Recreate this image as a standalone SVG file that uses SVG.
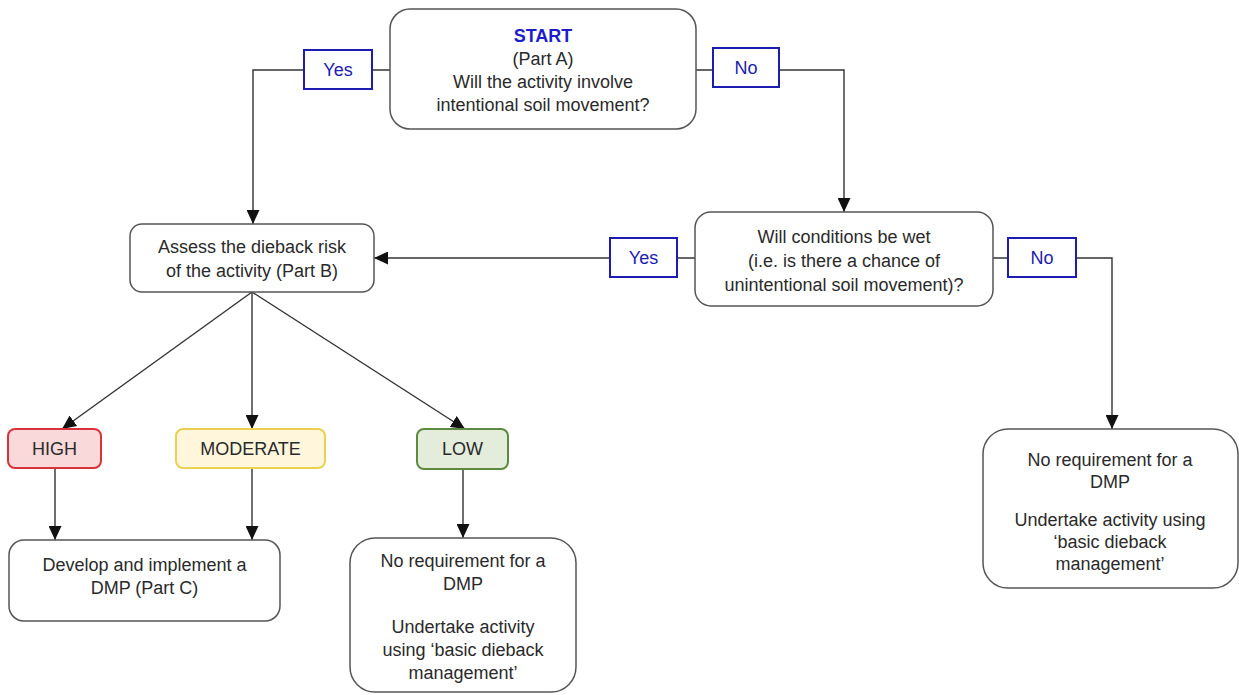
<svg xmlns="http://www.w3.org/2000/svg" width="1239" height="695" viewBox="0 0 1239 695">
<defs>
<marker id="arr" markerWidth="14" markerHeight="13" viewBox="0 0 14 13" refX="14" refY="6.5" orient="auto" markerUnits="userSpaceOnUse">
<path d="M0,0 L14,6.5 L0,13 Z" fill="#111"/>
</marker>
<style>
.box{fill:#fff;stroke:#555;stroke-width:1.5}
.lbl{fill:#fff;stroke:#1c1cb0;stroke-width:2}
.t{font-family:"Liberation Sans",Arial,sans-serif;font-size:18px;fill:#2a2a2a;text-anchor:middle}
.lt{font-family:"Liberation Sans",Arial,sans-serif;font-size:18px;fill:#1c1cb0;text-anchor:middle}
.c{fill:none;stroke:#333;stroke-width:1.4}
</style>
</defs>
<rect width="1239" height="695" fill="#fff"/>
<g id="connectors">
<path class="c" d="M390,70 H253 V224" marker-end="url(#arr)"/>
<path class="c" d="M696,70 H844 V212" marker-end="url(#arr)"/>
<path class="c" d="M695,258 H374" marker-end="url(#arr)"/>
<path class="c" d="M993,258 H1112 V429" marker-end="url(#arr)"/>
<path class="c" d="M252,292 L62,429" marker-end="url(#arr)"/>
<path class="c" d="M252,292 V429" marker-end="url(#arr)"/>
<path class="c" d="M252,292 L465,429" marker-end="url(#arr)"/>
<path class="c" d="M55,468 V540" marker-end="url(#arr)"/>
<path class="c" d="M252,468 V540" marker-end="url(#arr)"/>
<path class="c" d="M463,469 V538" marker-end="url(#arr)"/>
</g>
<g id="label-yes-1"><rect class="lbl" x="304" y="50" width="68" height="39"/><text class="lt" x="338" y="76">Yes</text></g>
<g id="label-no-1"><rect class="lbl" x="713" y="48" width="66" height="39"/><text class="lt" x="746" y="74">No</text></g>
<g id="label-yes-2"><rect class="lbl" x="610" y="238" width="67" height="39"/><text class="lt" x="643.5" y="264">Yes</text></g>
<g id="label-no-2"><rect class="lbl" x="1008" y="238" width="68" height="39"/><text class="lt" x="1042" y="264">No</text></g>
<g id="start">
<rect class="box" x="390" y="9" width="306" height="120" rx="20"/>
<text class="t" x="543" y="42" style="font-weight:bold;fill:#1c1cc8">START</text>
<text class="t" x="543" y="65">(Part A)</text>
<text class="t" x="543" y="88">Will the activity involve</text>
<text class="t" x="543" y="111">intentional soil movement?</text>
</g>
<g id="wet">
<rect class="box" x="695" y="212" width="298" height="94" rx="16"/>
<text class="t" x="844" y="243">Will conditions be wet</text>
<text class="t" x="844" y="267">(i.e. is there a chance of</text>
<text class="t" x="844" y="291">unintentional soil movement)?</text>
</g>
<g id="assess">
<rect class="box" x="130" y="224" width="244" height="68" rx="12"/>
<text class="t" x="252" y="253">Assess the dieback risk</text>
<text class="t" x="252" y="277">of the activity (Part B)</text>
</g>
<g id="high">
<rect x="8" y="429" width="93" height="39" rx="7" fill="#f9d9da" stroke="#d8323a" stroke-width="2"/>
<text class="t" x="54.5" y="455">HIGH</text>
</g>
<g id="moderate">
<rect x="176" y="429" width="149" height="39" rx="7" fill="#fff6dc" stroke="#ecd052" stroke-width="2"/>
<text class="t" x="250.5" y="455">MODERATE</text>
</g>
<g id="low">
<rect x="417" y="429" width="91" height="40" rx="7" fill="#e4eddc" stroke="#5d8a3e" stroke-width="2"/>
<text class="t" x="462.5" y="455">LOW</text>
</g>
<g id="dmp">
<rect class="box" x="9" y="540" width="271" height="81" rx="15"/>
<text class="t" x="144.5" y="571">Develop and implement a</text>
<text class="t" x="144.5" y="594">DMP (Part C)</text>
</g>
<g id="low-result">
<rect class="box" x="350" y="538" width="226" height="154" rx="25"/>
<text class="t" x="463" y="567">No requirement for a</text>
<text class="t" x="463" y="590">DMP</text>
<text class="t" x="463" y="633">Undertake activity</text>
<text class="t" x="463" y="656">using ‘basic dieback</text>
<text class="t" x="463" y="679">management’</text>
</g>
<g id="no-result">
<rect class="box" x="983" y="429" width="255" height="159" rx="25"/>
<text class="t" x="1110" y="466">No requirement for a</text>
<text class="t" x="1110" y="488">DMP</text>
<text class="t" x="1110" y="526">Undertake activity using</text>
<text class="t" x="1110" y="548">‘basic dieback</text>
<text class="t" x="1110" y="570">management’</text>
</g>
</svg>
